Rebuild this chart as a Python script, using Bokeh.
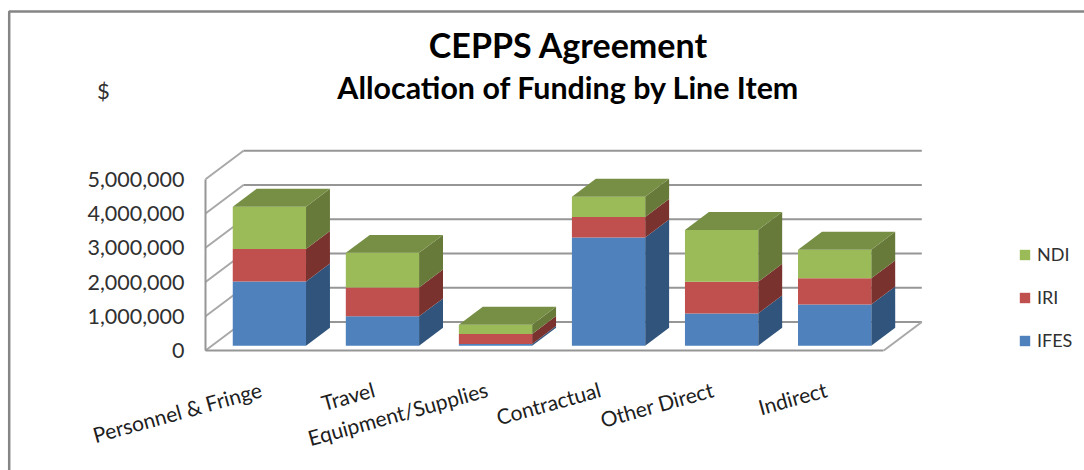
from bokeh.embed import file_html
from bokeh.resources import INLINE
from bokeh.plotting import figure
from bokeh.models import (Range1d, LinearAxis, FixedTicker, NumeralTickFormatter, Label,
                          Legend, LegendItem)
import math

categories = ["Personnel & Fringe", "Travel", "Equipment/Supplies", "Contractual", "Other Direct", "Indirect"]
ifes = [1875000, 855000, 50000, 3160000, 940000, 1205000]
iri = [945000, 845000, 290000, 600000, 925000, 760000]
ndi = [1235000, 1010000, 270000, 590000, 1515000, 835000]
y_ticks = [0, 1000000, 2000000, 3000000, 4000000, 5000000]
series = [("IFES", ifes, "#4F81BD", "#31547C", None),
          ("IRI", iri, "#C0504D", "#7A322F", None),
          ("NDI", ndi, "#9BBB59", "#687A3A", "#778F45")]

W, H = 1084, 470
OX, OY = 0, 0      # page position of the figure
SLOT = 113.05      # px per category
PXM = 34.25e-6     # px per dollar
X0, Y0 = 205, 350  # position of the front-left floor corner
DX, DY = 38 / SLOT, 28.5 / PXM   # full depth of the 3D box in data units
D_FRONT, D_BACK = 0.17, 0.80
BAR_A, BAR_W = 0.184, 0.648


def px(xp, yp):
    """picture pixel to data, for annotations"""
    return (xp - X0) / SLOT, (Y0 - yp) / PXM


x_start, y_end = px(OX, OY)
x_end, y_start = px(OX + W, OY + H)
p = figure(width=W, height=H, output_backend="svg", toolbar_location=None, min_border=0,
           x_range=Range1d(x_start, x_end), y_range=Range1d(y_start, y_end),
           x_axis_type=None, y_axis_type=None, outline_line_color=None,
           background_fill_color="white", border_fill_color="white")
p.grid.visible = False

GRID = "#969696"
# chart frame line
bx0, by0 = px(8.7, 11)
bx1, by1 = px(OX + W, OY + H)
p.line([bx0, bx0, bx1], [by1, by0, by0], line_color="#858585", line_width=2.5)

# walls and floor
p.segment(x0=[0] * 6, y0=y_ticks, x1=[DX] * 6, y1=[v + DY for v in y_ticks], line_color="#a8a8a8", line_width=2)
p.segment(x0=[DX] * 6, y0=[v + DY for v in y_ticks], x1=[6 + DX] * 6, y1=[v + DY for v in y_ticks],
          line_color=GRID, line_width=2)
p.segment(x0=[6], y0=[0], x1=[6 + DX], y1=[DY], line_color="#a8a8a8", line_width=2)

# bars
cum = [0.0] * 6
n = len(categories)
fd, bd = D_FRONT, D_BACK
legend_r = {}
for name, vals, col, side, topc in series:
    bottoms = [cum[i] + fd * DY for i in range(n)]
    tops = [cum[i] + vals[i] + fd * DY for i in range(n)]
    lefts = [i + BAR_A + fd * DX for i in range(n)]
    rights = [l + BAR_W for l in lefts]
    sx = [[rights[i], rights[i], rights[i] + (bd - fd) * DX, rights[i] + (bd - fd) * DX] for i in range(n)]
    sy = [[bottoms[i], tops[i], tops[i] + (bd - fd) * DY, bottoms[i] + (bd - fd) * DY] for i in range(n)]
    p.patches(sx, sy, fill_color=side, line_color=None)
    r = p.quad(left=lefts, right=rights, bottom=bottoms, top=tops, fill_color=col, line_color=None)
    legend_r[name] = r
    if topc:
        tx = [[lefts[i], rights[i], rights[i] + (bd - fd) * DX, lefts[i] + (bd - fd) * DX] for i in range(n)]
        ty = [[tops[i], tops[i], tops[i] + (bd - fd) * DY, tops[i] + (bd - fd) * DY] for i in range(n)]
        p.patches(tx, ty, fill_color=topc, line_color=None)
    cum = [cum[i] + vals[i] for i in range(n)]

# axes
yax = LinearAxis(fixed_location=0, ticker=FixedTicker(ticks=y_ticks), bounds=(0, 5000000),
                 formatter=NumeralTickFormatter(format="0,0"))
yax.axis_line_color = "#969696"
yax.axis_line_width = 2
yax.major_tick_line_color = None
yax.minor_tick_line_color = None
yax.major_label_standoff = 15
yax.major_label_text_font = "Lato"
yax.major_label_text_font_size = "21.5px"
yax.major_label_text_color = "#303030"
p.add_layout(yax, "left")

ticks = [round(i + 0.5 + fd * DX - 7.5 / SLOT, 4) for i in range(n)]
xax = LinearAxis(fixed_location=0, ticker=FixedTicker(ticks=ticks), bounds=(0, 6),
                 major_label_overrides={t: c for t, c in zip(ticks, categories)})
xax.axis_line_color = "#969696"
xax.axis_line_width = 2
xax.major_tick_line_color = None
xax.minor_tick_line_color = None
xax.major_label_standoff = 32
xax.major_label_orientation = math.radians(15.5)
xax.major_label_text_font = "Lato"
xax.major_label_text_font_size = "21px"
xax.major_label_text_color = "#202020"
p.add_layout(xax, "below")


def text(txt, xp, yp, size, bold=False, color="#000000"):
    x, y = px(xp, yp)
    p.add_layout(Label(x=x, y=y, text=txt, text_align="center", text_baseline="middle",
                       text_font="Lato", text_font_size=size, text_color=color,
                       text_font_style="bold" if bold else "normal"))


text("CEPPS Agreement", 568, 44, "34px", True)
text("Allocation of Funding by Line Item", 568, 86, "30.4px", True)
text("$", 103, 90, "22px", False, "#303030")

legend = Legend(items=[LegendItem(label=k, renderers=[legend_r[k]]) for k in ["NDI", "IRI", "IFES"]],
                location=(1018 - OX, OY + H - 351), orientation="vertical", border_line_color=None,
                background_fill_alpha=0, margin=0, padding=0, glyph_width=13, glyph_height=13,
                label_standoff=6, spacing=21, label_text_font="Lato", label_text_font_size="18px",
                label_text_color="#303030", label_height=13)
p.add_layout(legend, "center")

open("out.html", "w").write(file_html(p, INLINE))
